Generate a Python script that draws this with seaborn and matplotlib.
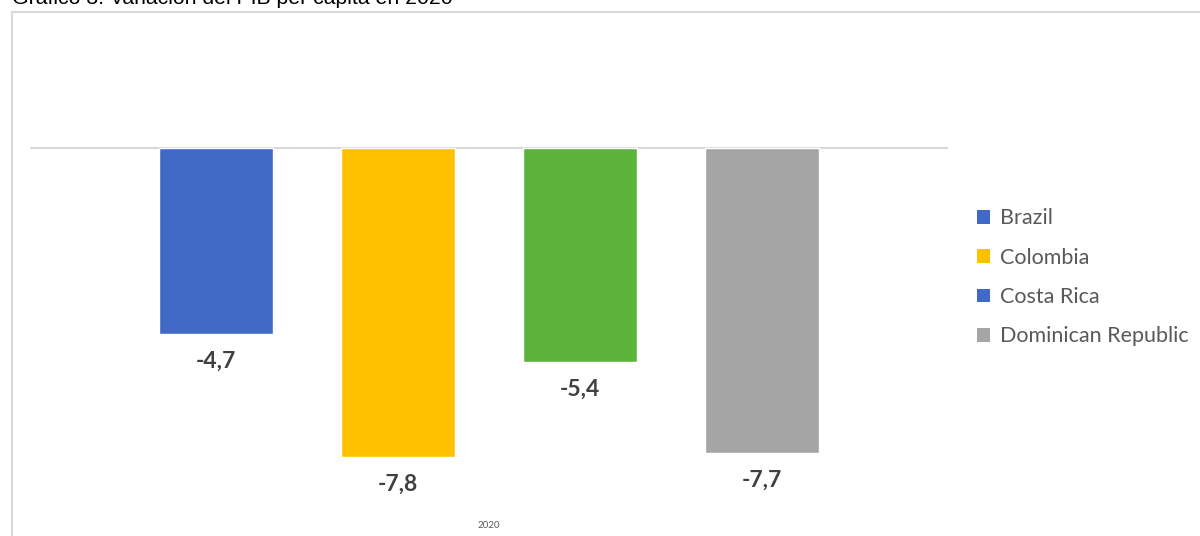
import matplotlib
matplotlib.use("Agg")
import matplotlib.pyplot as plt
import matplotlib.patches as mpatches
import seaborn as sns
import pandas as pd

# Data
countries = ["Brazil", "Colombia", "Costa Rica", "Dominican Republic"]
values = [-4.7, -7.8, -5.4, -7.7]
year_label = "2020"
title = "Gráfico 3. Variación del PIB per cápita en 2020"

bar_colors = ["#4169C6", "#FFC000", "#5DB43C", "#A5A5A5"]
legend_colors = ["#4169C6", "#FFC000", "#4169C6", "#A5A5A5"]

df = pd.DataFrame({"year": [year_label] * len(countries),
                   "country": countries,
                   "value": values})

sns.set_theme(style="white")
plt.rcParams["font.family"] = ["Lato", "DejaVu Sans"]

fig = plt.figure(figsize=(12, 5.36), dpi=100)
ax = fig.add_axes([30 / 1200, 1 - 502 / 536, (948 - 30) / 1200, (502 - 30) / 536])

ax.axhline(0, color="#d9d9d9", lw=1.5, zorder=0)
sns.barplot(data=df, x="year", y="value", hue="country", hue_order=countries,
            palette=bar_colors, width=0.8, gap=0.374, legend=False,
            saturation=1, ax=ax, zorder=2)

ax.set_ylim(-8.95, 3)
ax.set_xlim(-0.504, 0.504)
for s in ax.spines.values():
    s.set_visible(False)
ax.set_yticks([])
ax.set_xlabel("")
ax.set_ylabel("")
ax.tick_params(axis="x", length=0, pad=14, labelsize=7, labelcolor="#595959")

for cont in ax.containers:
    labs = [f"{b.get_height():.1f}".replace(".", ",") for b in cont]
    ax.bar_label(cont, labels=labs, padding=12, fontsize=16.5, fontweight="bold",
                 color="#404040")

handles = [mpatches.Patch(facecolor=c, edgecolor="none") for c in legend_colors]
leg = fig.legend(handles, countries, loc="upper left",
                 bbox_to_anchor=(958 / 1200, 1 - 189 / 536), frameon=False,
                 fontsize=15.5, labelcolor="#595959", handlelength=0.6,
                 handleheight=0.6, handletextpad=0.45, labelspacing=0.9)

# Frame around the chart (extends beyond the image edges)
rect = mpatches.Rectangle((12 / 1200, -0.05), 1.1, 1 - 12 / 536 + 0.05,
                          transform=fig.transFigure, fill=False,
                          edgecolor="#d9d9d9", lw=1.5, clip_on=False)
fig.patches.append(rect)

fig.text(12 / 1200, 1 - 4 / 536, title, fontsize=15.3, color="#000000",
         ha="left", va="baseline", family=["Liberation Sans", "DejaVu Sans"])

fig.savefig("out.png", dpi=100)
